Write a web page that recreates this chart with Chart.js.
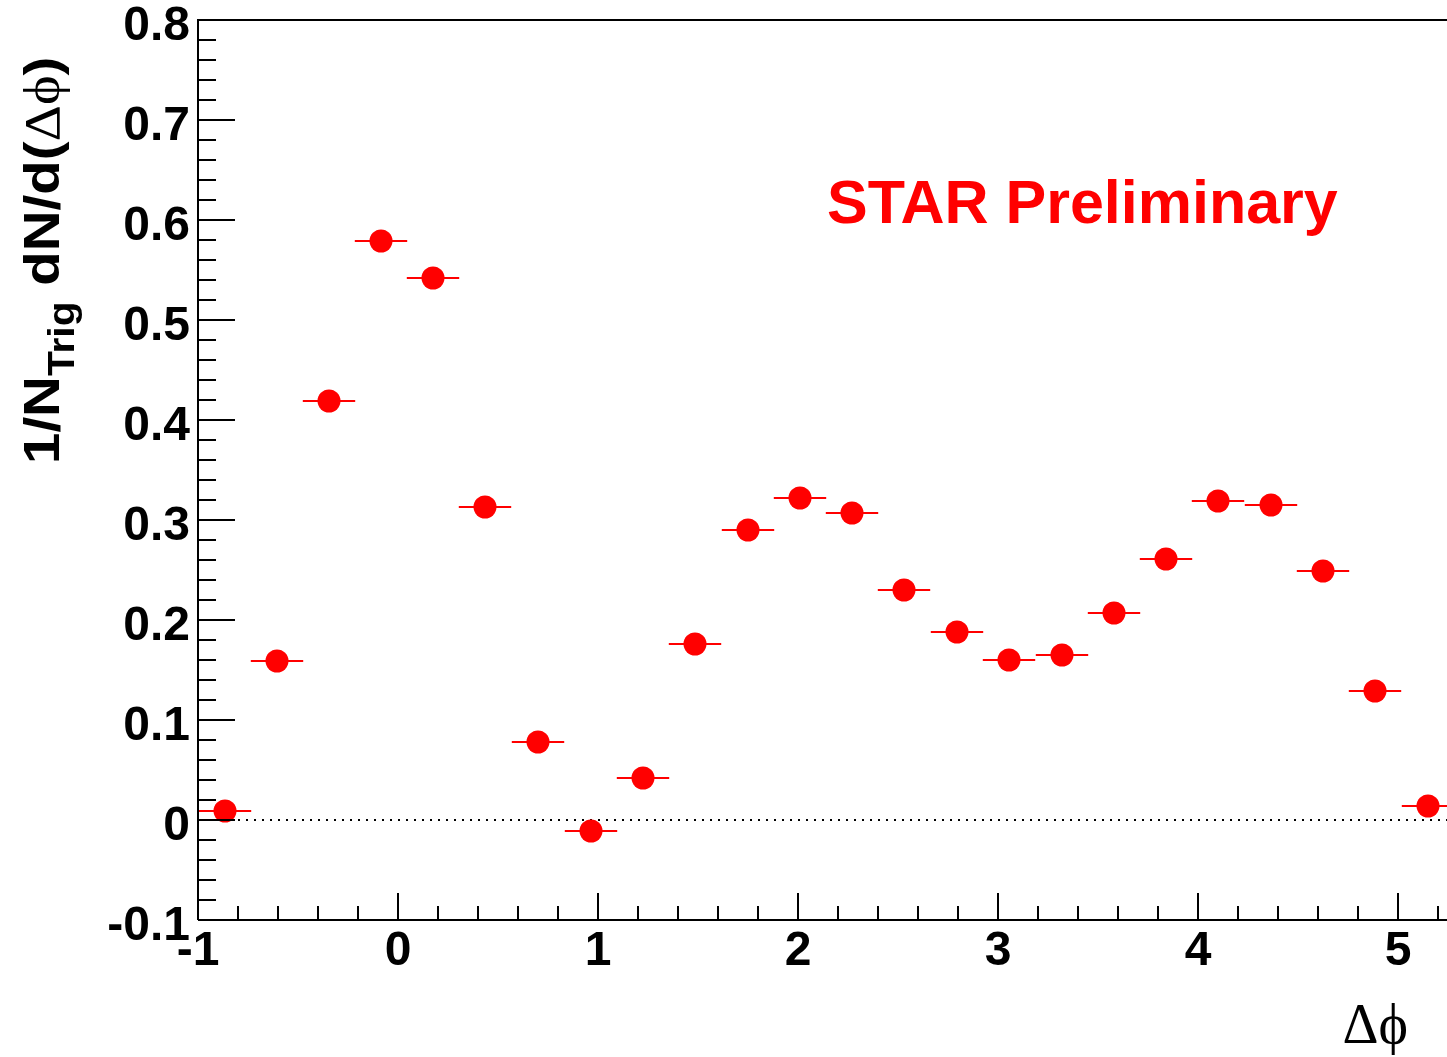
<!DOCTYPE html>
<html>
<head>
<meta charset="utf-8">
<script src="https://cdn.jsdelivr.net/npm/chart.js@4"></script>
<style>
  body { margin: 0; background: #fff; overflow: hidden; }
  #box { width: 1447px; height: 1057px; }
</style>
</head>
<body>
<div id="box"><canvas id="grafico"></canvas></div>
<script>
// bin centres (delta phi) and per-trigger yields
const dphi = [-0.865, -0.605, -0.345, -0.085, 0.175, 0.435, 0.700, 0.965,
              1.225, 1.485, 1.750, 2.010, 2.270, 2.530, 2.795, 3.055,
              3.320, 3.580, 3.840, 4.100, 4.365, 4.625, 4.885, 5.150];
const rendimento = [0.009, 0.159, 0.419, 0.579, 0.542, 0.313, 0.078, -0.011,
                    0.042, 0.176, 0.290, 0.322, 0.307, 0.230, 0.188, 0.160,
                    0.165, 0.207, 0.261, 0.319, 0.315, 0.249, 0.129, 0.014];
const meiaLargura = 0.131; // half bin width, horizontal error bar

const xTicks = [-1, 0, 1, 2, 3, 4, 5];
const yTicks = [-0.1, 0, 0.1, 0.2, 0.3, 0.4, 0.5, 0.6, 0.7, 0.8];

const vermelho = "#ff0000";
const fonteEixo = "'Liberation Sans', Arial, sans-serif";
const fonteSimbolo = "'Liberation Serif', 'DejaVu Serif', serif";

const pontos = dphi.map((x, i) => ({ x: x, y: rendimento[i] }));

// horizontal bars: two ends per bin, broken by a null
const barras = [];
dphi.forEach((x, i) => {
    barras.push({ x: x - meiaLargura, y: rendimento[i] });
    barras.push({ x: x + meiaLargura, y: rendimento[i] });
    barras.push({ x: x, y: null });
});

// ROOT-like frame, inward ticks, zero line and the text
const moldura = {
    id: "moldura",
    beforeDatasetsDraw(chart) {
        const ctx = chart.ctx;
        const a = chart.chartArea;
        const sy = chart.scales.y;
        ctx.save();
        // dotted zero line
        ctx.strokeStyle = "#000";
        ctx.lineWidth = 2;
        ctx.setLineDash([2, 6]);
        const y0 = Math.round(sy.getPixelForValue(0));
        ctx.beginPath();
        ctx.moveTo(a.left, y0);
        ctx.lineTo(a.right, y0);
        ctx.stroke();
        ctx.restore();
    },
    afterDatasetsDraw(chart) {
        const ctx = chart.ctx;
        const a = chart.chartArea;
        const sx = chart.scales.x;
        const sy = chart.scales.y;
        ctx.save();
        ctx.strokeStyle = "#000";
        ctx.lineWidth = 2;
        ctx.beginPath();
        ctx.moveTo(a.left, a.bottom);
        ctx.lineTo(a.left, a.top);
        ctx.lineTo(a.right + 2, a.top);
        ctx.moveTo(a.left, a.bottom);
        ctx.lineTo(a.right, a.bottom);
        // y ticks every 0.02
        for (let k = -5; k <= 40; k++) {
            const py = Math.round(sy.getPixelForValue(k * 0.02));
            const len = (k % 5 === 0) ? 37 : 18;
            ctx.moveTo(a.left, py);
            ctx.lineTo(a.left + len, py);
        }
        // x ticks every 0.2
        for (let k = -5; k <= 26; k++) {
            const v = k * 0.2;
            if (v > sx.max) break;
            const px = Math.round(sx.getPixelForValue(v));
            const len = (k % 5 === 0) ? 27 : 14;
            ctx.moveTo(px, a.bottom);
            ctx.lineTo(px, a.bottom - len);
        }
        ctx.stroke();

        // STAR Preliminary
        ctx.fillStyle = vermelho;
        ctx.font = "bold 61px " + fonteEixo;
        ctx.textBaseline = "alphabetic";
        ctx.textAlign = "left";
        ctx.fillText("STAR Preliminary", 827, 223);

        // x title
        ctx.fillStyle = "#000";
        ctx.font = "56px " + fonteSimbolo;
        ctx.textAlign = "right";
        ctx.fillText("Δϕ", 1408, 1043);

        // y title, rotated and a bit stretched along the text
        ctx.translate(59, 464);
        ctx.rotate(-Math.PI / 2);
        ctx.scale(1.13, 1);
        ctx.textAlign = "left";
        const partes = [
            { t: "1/N", f: "bold 50px " + fonteEixo, dy: 0 },
            { t: "Trig", f: "bold 36px " + fonteEixo, dy: 15 },
            { t: " dN/d(", f: "bold 50px " + fonteEixo, dy: 0 },
            { t: "Δϕ", f: "50px " + fonteSimbolo, dy: 0 },
            { t: ")", f: "bold 50px " + fonteEixo, dy: 0 }
        ];
        let px = 0;
        partes.forEach(p => {
            ctx.font = p.f;
            ctx.fillText(p.t, px, p.dy);
            px += ctx.measureText(p.t).width;
        });
        ctx.restore();
    }
};

const grafico = new Chart(document.querySelector("#grafico"), {
    type: "scatter",
    data: {
        datasets: [
            {
                label: "yield",
                data: pontos,
                backgroundColor: vermelho,
                borderWidth: 0,
                pointRadius: 11.5,
                pointHoverRadius: 11.5,
                order: 0
            },
            {
                label: "bin",
                type: "line",
                data: barras,
                borderColor: vermelho,
                borderWidth: 2,
                pointRadius: 0,
                spanGaps: false,
                showLine: true,
                order: 1
            }
        ]
    },
    options: {
        responsive: true,
        maintainAspectRatio: false,
        animation: false,
        events: [],
        layout: { autoPadding: false, padding: { top: 20, right: 0, left: 0, bottom: 0 } },
        plugins: {
            legend: { display: false },
            tooltip: { enabled: false }
        },
        scales: {
            x: {
                type: "linear",
                min: -1,
                max: 5.245,
                grid: { display: false, drawTicks: false },
                border: { display: false },
                afterBuildTicks: s => { s.ticks = xTicks.map(v => ({ value: v })); },
                afterFit: s => { s.height = 137; s.paddingLeft = 0; s.paddingRight = 0; },
                ticks: {
                    autoSkip: false,
                    maxRotation: 0,
                    padding: 3,
                    color: "#000",
                    font: { family: fonteEixo, size: 48, weight: "bold" }
                }
            },
            y: {
                type: "linear",
                min: -0.1,
                max: 0.8,
                grid: { display: false, drawTicks: false },
                border: { display: false },
                afterBuildTicks: s => { s.ticks = yTicks.map(v => ({ value: v })); },
                afterFit: s => { s.width = 198; s.paddingTop = 0; s.paddingBottom = 0; },
                ticks: {
                    padding: 8,
                    labelOffset: 7,
                    color: "#000",
                    font: { family: fonteEixo, size: 48, weight: "bold" },
                    callback: v => String(Math.round(v * 10) / 10)
                }
            }
        }
    },
    plugins: [moldura]
});
</script>
</body>
</html>
